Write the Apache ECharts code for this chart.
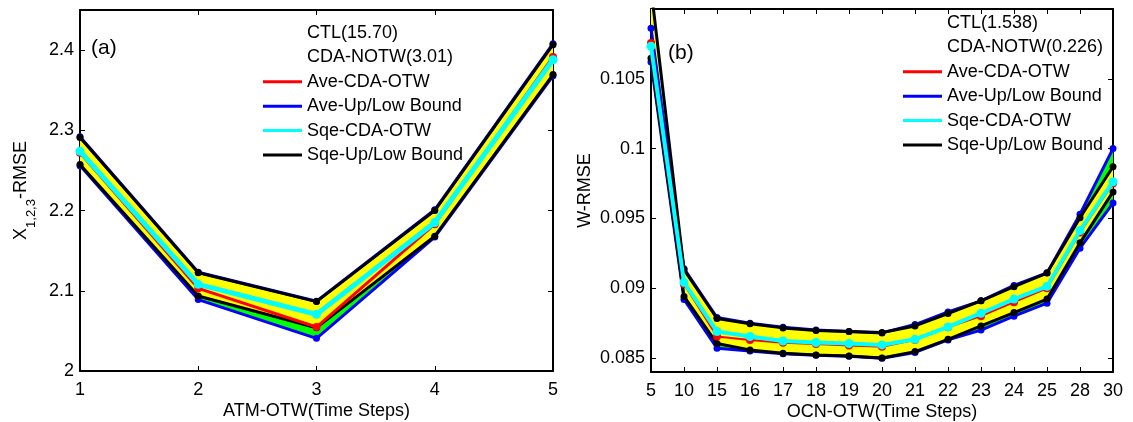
<!DOCTYPE html>
<html>
<head>
<meta charset="utf-8">
<script src="https://cdn.jsdelivr.net/npm/echarts@6/dist/echarts.min.js"></script>
<style>
html,body{margin:0;padding:0;background:#fff;}
#chart{width:1133px;height:422px;}
</style>
</head>
<body>
<div id="chart"></div>
<script>
// ---------- Panel (a) data ----------
var catsA = ['1', '2', '3', '4', '5'];
var aveA    = [2.272, 2.103, 2.0548, 2.183, 2.3915];   // Ave-CDA-OTW (red)
var aveUpA  = [2.292, 2.123, 2.087, 2.201, 2.408];     // Ave upper bound (blue)
var aveLowA = [2.256, 2.089, 2.0407, 2.167, 2.368];    // Ave lower bound (blue)
var sqeA    = [2.274, 2.108, 2.0706, 2.185, 2.388];    // Sqe-CDA-OTW (cyan)
var sqeUpA  = [2.291, 2.1224, 2.0865, 2.200, 2.4067];  // Sqe upper bound (black)
var sqeLowA = [2.2574, 2.0934, 2.054, 2.168, 2.3695];  // Sqe lower bound (black)
var yTicksA = [2, 2.1, 2.2, 2.3, 2.4];

// ---------- Panel (b) data ----------
var catsB = ['5', '10', '15', '16', '17', '18', '19', '20', '21', '22', '23', '24', '25', '28', '30'];
var aveB    = [0.10756, 0.0903, 0.08654, 0.0863, 0.0861, 0.0860, 0.0859, 0.0858, 0.0863, 0.0872, 0.0880, 0.0890, 0.0900, 0.0940, 0.0975];
var aveUpB  = [0.10863, 0.0914, 0.0879, 0.0875, 0.0872, 0.0870, 0.0869, 0.0868, 0.0874, 0.0883, 0.0891, 0.0902, 0.0911, 0.0953, 0.1000];
var aveLowB = [0.1062, 0.0892, 0.0857, 0.0855, 0.0853, 0.0852, 0.08512, 0.08498, 0.0854, 0.0863, 0.0870, 0.0880, 0.08893, 0.09287, 0.0961];
var sqeB    = [0.10734, 0.09042, 0.0869, 0.08654, 0.08622, 0.08611, 0.08604, 0.08594, 0.08634, 0.08723, 0.08821, 0.08922, 0.09013, 0.09413, 0.09763];
var sqeUpB  = [0.1115, 0.09133, 0.08783, 0.08745, 0.08716, 0.08697, 0.0869, 0.08683, 0.0873, 0.08819, 0.0891, 0.09011, 0.09109, 0.09505, 0.0987];
var sqeLowB = [0.10648, 0.08941, 0.08604, 0.08558, 0.08534, 0.08522, 0.08514, 0.0850, 0.08546, 0.08634, 0.0873, 0.08826, 0.08922, 0.09325, 0.0969];
var yTicksB = [0.085, 0.09, 0.095, 0.1, 0.105];

var legendNames = ['Ave-CDA-OTW', 'Ave-Up/Low Bound', 'Sqe-CDA-OTW', 'Sqe-Up/Low Bound'];
var ctlA = 'CTL(15.70)', notwA = 'CDA-NOTW(3.01)';
var ctlB = 'CTL(1.538)', notwB = 'CDA-NOTW(0.226)';

var FONT = 'Liberation Sans, Arial, sans-serif';
var FS = 18;
var RED = '#ff0000', BLUE = '#0000ff', CYAN = '#00ffff', BLACK = '#000000', YELLOW = '#ffff00', GREEN = '#00ff00';

function diff(up, low) { return up.map(function (v, i) { return v - low[i]; }); }

function bandSeries(low, up, color, key, z) {
  return [
    { type: 'line', data: low, stack: key, symbol: 'none',
      lineStyle: { width: 0, opacity: 0 }, silent: true, z: z },
    { type: 'line', data: diff(up, low), stack: key, symbol: 'none',
      lineStyle: { width: 0, opacity: 0 }, areaStyle: { color: color, opacity: 1 }, silent: true, z: z }
  ];
}

function lineSeries(name, data, color, width, size, z) {
  return { type: 'line', name: name, data: data,
    symbol: 'circle', symbolSize: size, showSymbol: true,
    lineStyle: { color: color, width: width }, itemStyle: { color: color }, z: z };
}

function panelSeries(key, d, ctl, notw, redW, cyanW) {
  var s = [];
  s = s.concat(bandSeries(d.aveLow, d.aveUp, GREEN, 'ave' + key, 1));
  s = s.concat(bandSeries(d.sqeLow, d.sqeUp, YELLOW, 'sqe' + key, 2));
  s.push(lineSeries('Ave-Up/Low Bound', d.aveUp, BLUE, 3, 7, 3));
  s.push(lineSeries('Ave-Up/Low Bound', d.aveLow, BLUE, 3, 7, 3));
  s.push(lineSeries('Sqe-Up/Low Bound', d.sqeUp, BLACK, 3, 7, 4));
  s.push(lineSeries('Sqe-Up/Low Bound', d.sqeLow, BLACK, 3, 7, 4));
  s.push(lineSeries('Ave-CDA-OTW', d.ave, RED, redW, 8, 5));
  s.push(lineSeries('Sqe-CDA-OTW', d.sqe, CYAN, cyanW, 9, 6));
  s.push({ type: 'line', name: ctl, data: [] });
  s.push({ type: 'line', name: notw, data: [] });
  return s;
}

var labelStyle = { color: '#000', fontFamily: FONT, fontSize: FS };

function xAxes(gridIdx, cats, name) {
  return [
    { type: 'category', gridIndex: gridIdx, data: cats, boundaryGap: false, position: 'bottom',
      name: name, nameLocation: 'middle', nameGap: 31, nameMoveOverlap: false,
      nameTextStyle: { color: '#000', fontFamily: FONT, fontSize: FS },
      axisLine: { lineStyle: { color: '#000', width: 2 } },
      axisTick: { inside: true, length: 5, lineStyle: { color: '#000', width: 1 } },
      axisLabel: Object.assign({ margin: 10, interval: 0 }, labelStyle),
      splitLine: { show: false } },
    { type: 'category', gridIndex: gridIdx, data: cats, boundaryGap: false, position: 'top',
      axisLine: { lineStyle: { color: '#000', width: 2 } },
      axisTick: { inside: true, length: 5, lineStyle: { color: '#000', width: 1 } },
      axisLabel: { show: false }, splitLine: { show: false } }
  ];
}

function yAxes(gridIdx, min, max, ticks, name, nameGap) {
  return [
    { type: 'value', gridIndex: gridIdx, min: min, max: max, position: 'left',
      name: name, nameLocation: 'middle', nameGap: nameGap, nameMoveOverlap: false,
      nameTextStyle: { color: '#000', fontFamily: FONT, fontSize: FS,
        rich: { a: { fontFamily: FONT, fontSize: FS, color: '#000', verticalAlign: 'top', lineHeight: 26 },
                s: { fontFamily: FONT, fontSize: 13, color: '#000', verticalAlign: 'bottom', lineHeight: 26 } } },
      axisLine: { show: true, lineStyle: { color: '#000', width: 2 } },
      axisTick: { show: true, inside: true, length: 5, customValues: ticks, lineStyle: { color: '#000', width: 1 } },
      axisLabel: Object.assign({ margin: 6, customValues: ticks }, labelStyle),
      splitLine: { show: false } },
    { type: 'value', gridIndex: gridIdx, min: min, max: max, position: 'right',
      axisLine: { show: true, lineStyle: { color: '#000', width: 2 } },
      axisTick: { show: true, inside: true, length: 5, customValues: ticks, lineStyle: { color: '#000', width: 1 } },
      axisLabel: { show: false }, splitLine: { show: false } }
  ];
}

function legend(left, top, ctl, notw) {
  return {
    orient: 'vertical', left: left, top: top, padding: 0, itemWidth: 39, itemHeight: 3, itemGap: 6.4,
    icon: 'rect', selectedMode: false,
    textStyle: { color: '#000', fontFamily: FONT, fontSize: FS },
    data: [
      { name: ctl, itemStyle: { opacity: 0 } },
      { name: notw, itemStyle: { opacity: 0 } },
      { name: legendNames[0] }, { name: legendNames[1] }, { name: legendNames[2] }, { name: legendNames[3] }
    ]
  };
}

var dA = { ave: aveA, aveUp: aveUpA, aveLow: aveLowA, sqe: sqeA, sqeUp: sqeUpA, sqeLow: sqeLowA };
var dB = { ave: aveB, aveUp: aveUpB, aveLow: aveLowB, sqe: sqeB, sqeUp: sqeUpB, sqeLow: sqeLowB };

var xa = xAxes(0, catsA, 'ATM-OTW(Time Steps)').concat(xAxes(1, catsB, 'OCN-OTW(Time Steps)'));
var ya = yAxes(0, 2, 2.45, yTicksA, '{a|X}{s|1,2,3}{a|-RMSE}', 42).concat(
         yAxes(1, 0.084, 0.110, yTicksB, 'W-RMSE', 57));

function fixIdx(series, xIdx, yIdx) {
  series.forEach(function (s) { s.xAxisIndex = xIdx; s.yAxisIndex = yIdx; });
  return series;
}

var seriesA = fixIdx(panelSeries('A', dA, ctlA, notwA, 3, 5), 0, 0);
var seriesB = fixIdx(panelSeries('B', dB, ctlB, notwB, 2, 4), 2, 2);

var option = {
  animation: false,
  backgroundColor: '#fff',
  grid: [
    { left: 80, right: 580, top: 10, bottom: 51, containLabel: false, outerBoundsMode: 'none' },
    { left: 651, right: 20, top: 9, bottom: 50, containLabel: false, outerBoundsMode: 'none' }
  ],
  xAxis: xa,
  yAxis: ya,
  legend: [legend(263, 24, ctlA, notwA), legend(903, 14, ctlB, notwB)],
  graphic: [
    { type: 'text', left: 91, top: 38, style: { text: '(a)', font: '21px ' + FONT, fill: '#000' } },
    { type: 'text', left: 668, top: 43, style: { text: '(b)', font: '21px ' + FONT, fill: '#000' } }
  ],
  series: seriesA.concat(seriesB)
};

var chart = echarts.init(document.getElementById('chart'), null, { renderer: 'canvas' });
chart.setOption(option);
</script>
</body>
</html>
